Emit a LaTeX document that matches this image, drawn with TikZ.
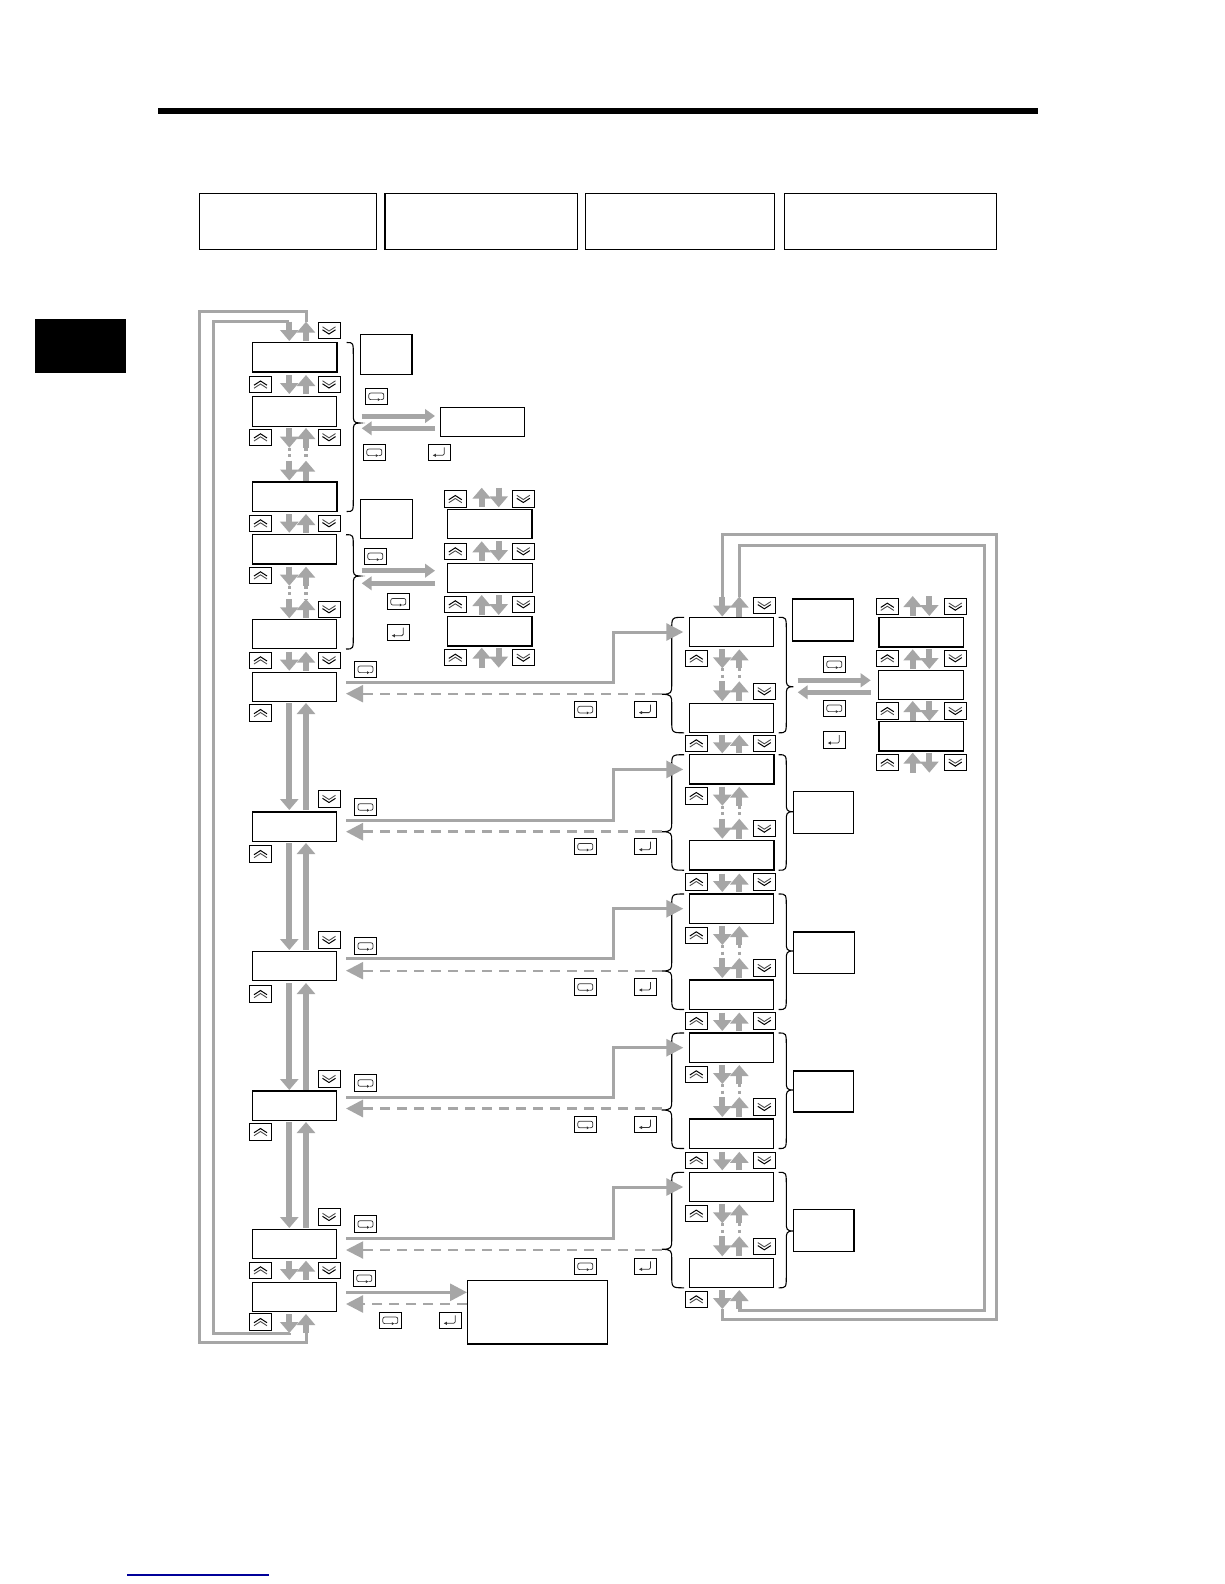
\documentclass[tikz,border=0pt]{standalone}
\usetikzlibrary{arrows.meta}
\definecolor{gr}{HTML}{A6A6A6}
\tikzset{
  x=1pt,y=-1pt,
  box/.style={draw=black,line width=1.1pt,inner sep=0pt,outer sep=0pt,anchor=north west,rectangle},
  lcd/.style={box,minimum width=84.6pt,minimum height=29.4pt},
  lcdb/.style={lcd,line width=1.5pt},
  note/.style={box,minimum width=51.5pt,minimum height=40pt},
  noteb/.style={note,line width=1.5pt},
  keybase/.style={draw=black,line width=1pt,rectangle,inner sep=0pt,outer sep=0pt,minimum width=22pt,minimum height=16.5pt},
  keyup/.style={keybase,path picture={\begin{scope}[shift={(path picture bounding box.center)}]
     \draw[black,line width=1pt,line join=miter] (-6.5,0.7)--(0,-3.5)--(6.5,0.7);
     \draw[black!70,line width=.9pt] (-6.5,3.7)--(0,-0.5)--(6.5,3.7);\end{scope}}},
  keydn/.style={keybase,path picture={\begin{scope}[shift={(path picture bounding box.center)}]
     \draw[black!70,line width=.9pt] (-6.5,-3.7)--(0,0.5)--(6.5,-3.7);
     \draw[black,line width=1pt] (-6.5,-0.7)--(0,3.5)--(6.5,-0.7);\end{scope}}},
  keyesc/.style={keybase,path picture={\begin{scope}[shift={(path picture bounding box.center)}]
     \draw[black!80,line width=.7pt,rounded corners=2pt] (1.5,3.3)--(-7.5,3.3)--(-7.5,-3.3)--(7.5,-3.3)--(7.5,3.3)--(4,3.3);
     \fill[black!80] (3.8,3.3)--(1.5,1.8)--(1.5,4.8)--cycle;\end{scope}}},
  keyent/.style={keybase,path picture={\begin{scope}[shift={(path picture bounding box.center)}]
     \draw[black!80,line width=.8pt,rounded corners=1.5pt] (5,-5)--(5,3)--(-4,3);
     \fill[black!80] (-6.5,3)--(-3.5,1.4)--(-3.5,4.6)--cycle;\end{scope}}},
  blockar/.style={draw=gr,line width=6pt,-{Triangle[length=11pt,width=18pt]}},
  midar/.style={draw=gr,line width=5pt,-{Triangle[length=10pt,width=13.5pt]}},
  linkar/.style={draw=gr,line width=3pt,-{Triangle[length=17pt,width=17pt]},shorten >=6pt},
  dashar/.style={draw=gr,dash pattern=on 10pt off 7pt,-{Triangle[length=17pt,width=17pt]}},
  solidar/.style={draw=gr,line width=3pt,-{Triangle[length=17pt,width=17pt]}},
  dotln/.style={draw=gr,line width=3.2pt,dash pattern=on 3pt off 3.6pt},
  loopln/.style={draw=gr,line width=3pt,line join=miter},
  brc/.style={draw=black,line width=1.1pt},
}
\newcommand\prow[5]{%
  \coordinate (#1-d0) at (#2,#4);\coordinate (#1-d1) at (#2,#5);
  \coordinate (#1-u0) at (#3,#4);\coordinate (#1-u1) at (#3,#5);
  \draw[blockar] (#1-d0) -- (#1-d1);
  \draw[blockar] (#1-u1) -- (#1-u0);}
\newcommand\dotlink[2]{%
  \draw[dotln] (#1-d1) -- (#2-d0);
  \draw[dotln] (#1-u1) -- (#2-u0);}
\newcommand\gbrace[6]{% end x, spine x, tip x, y0, y1, ytip
  \draw[brc] (#1,#4) .. controls (#2,#4) and (#2,#4) .. (#2,#4+13) -- (#2,#6-9)
    .. controls (#2,#6-2) and (#2,#6) .. (#3,#6)
    .. controls (#2,#6) and (#2,#6+2) .. (#2,#6+9) -- (#2,#5-13)
    .. controls (#2,#5) and (#2,#5) .. (#1,#5);}
\newcommand\grp[5]{% id, ytop, ytip right brace, lcd style, key y
  \node[#4] (#1t) at (689.3,#2) {};
  \node[#4] (#1b) at (689.3,#2+86) {};
  \node[keyup] (#1ku) at (696.3,#2+41.3) {};
  \node[keydn] (#1kd) at (764.3,#2+74) {};
  \prow{#1ra}{722.3}{739.3}{#2+32}{#2+51}
  \prow{#1rb}{722.3}{739.3}{#2+64}{#2+84}
  \dotlink{#1ra}{#1rb}
  \gbrace{684}{671.7}{661.7}{#2}{#2+115.5}{#2+77}
  \gbrace{778.5}{786.3}{793.3}{#2}{#2+115.5}{#3}
  \node[keyesc] (#1ke) at (585.3,#5) {};
  \node[keyent] (#1kn) at (645.5,#5) {};}
\newcommand\band[2]{% id, y
  \node[keyup] (#1u) at (696.3,#2) {};
  \node[keydn] (#1n) at (764.3,#2) {};
  \prow{#1}{722.3}{739.3}{#2-8.5}{#2+10}}
\newcommand\lnk[6]{% id, y solid, y dash, target, dash width, key y
  \node[keyesc] (#1k) at (365.5,#6) {};
  \coordinate (#1s) at (346,#2);\coordinate (#1m) at (613,#2);
  \coordinate (#1e) at (661.7,#3);\coordinate (#1f) at (346,#3);
  \draw[linkar] (#1s) -- (#1m) |- (#4.west);
  \draw[dashar,line width=#5] (#1e) -- (#1f);}
\begin{document}
\begin{tikzpicture}
\useasboundingbox (0,0) rectangle (1224,1584);
\fill[white] (0,0) rectangle (1224,1584);
% page furniture
\node[fill=black,minimum width=880pt,minimum height=6pt,inner sep=0pt,anchor=north west] (rule) at (158,108) {};
\node[fill=black,minimum width=91pt,minimum height=53.6pt,inner sep=0pt,anchor=north west] (tab) at (35,319) {};
\coordinate (blA) at (127.3,1575);\coordinate (blB) at (268.7,1575);
\draw[blue!60!black,line width=1.1pt] (blA) -- (blB);
% header boxes
\node[box,minimum width=177pt,minimum height=56pt] (h1) at (199.3,193.3) {};
\node[box,minimum width=192.5pt,minimum height=56pt] (h2) at (385,193.3) {};
\node[box,minimum width=189pt,minimum height=56pt] (h3) at (585.6,193.3) {};
\node[box,minimum width=212pt,minimum height=56pt] (h4) at (784.5,193.3) {};
% left column
\node[lcdb] (L1) at (252.3,342.5) {};
\node[lcd] (L2) at (252.3,396.7) {};
\node[lcd,line width=1.3pt] (L3) at (252.3,481.9) {};
\node[lcd] (L4) at (252.3,534.6) {};
\node[lcd] (L5) at (252.3,619.3) {};
\node[lcd] (L6) at (252.3,672.3) {};
\node[lcd] (L7) at (252.3,812) {};
\node[lcd] (L8) at (252.3,951.5) {};
\node[lcd] (L9) at (252.3,1091) {};
\node[lcd] (L10) at (252.3,1229.3) {};
\node[lcd] (L11) at (252.3,1282.3) {};
% left arrows
\prow{t}{289.3}{306}{321.7}{341}
\prow{a}{289.3}{306}{375}{394}
\prow{b}{289.3}{306}{428}{447.7}
\prow{c}{289.3}{306}{460.7}{480.5}
\dotlink{b}{c}
\prow{d}{289.3}{306}{514}{532.7}
\prow{e}{289.3}{306}{566.7}{585.7}
\prow{f}{289.3}{306}{599}{618.3}
\dotlink{e}{f}
\prow{g}{289.3}{306}{651.7}{670.7}
\prow{h}{289.3}{306}{703}{810}
\prow{i}{289.3}{306}{843}{950}
\prow{j}{289.3}{306}{983}{1090}
\prow{k}{289.3}{306}{1122}{1228}
\prow{l}{289.3}{306}{1260.7}{1280}
\prow{m}{289.3}{306}{1314}{1333}
% left keys
\node[keydn] (kt) at (329,330.5) {};
\node[keyup] (k1u) at (260.5,384.5) {};\node[keydn] (k1d) at (329,384.5) {};
\node[keyup] (k2u) at (260.5,437.3) {};\node[keydn] (k2d) at (329,437.3) {};
\node[keyup] (k3u) at (260.5,523.3) {};\node[keydn] (k3d) at (329,523.3) {};
\node[keyup] (k4u) at (260.5,575.3) {};\node[keydn] (k4d) at (329,609.3) {};
\node[keyup] (k5u) at (260.5,660.3) {};\node[keydn] (k5d) at (329,660.3) {};
\node[keyup] (k6u) at (260.5,713) {};\node[keydn] (k6d) at (329,799) {};
\node[keyup] (k7u) at (260.5,854) {};\node[keydn] (k7d) at (329,940) {};
\node[keyup] (k8u) at (260.5,994) {};\node[keydn] (k8d) at (329,1079) {};
\node[keyup] (k9u) at (260.5,1132) {};\node[keydn] (k9d) at (329,1217) {};
\node[keyup] (k10u) at (260.5,1270.3) {};\node[keydn] (k10d) at (329,1270.3) {};
\node[keyup] (k11u) at (260.5,1322) {};
% left loops
\coordinate (oA) at (199.3,311.7);\coordinate (oB) at (199.3,1342.7);
\coordinate (iA) at (213.3,321.7);\coordinate (iB) at (213.3,1333.7);
\draw[loopln] (t-u0) |- (oA) -- (oB) -| (m-u1);
\draw[loopln] (t-d0) -- (iA) -- (iB) -| (m-d1);
% upper braces and their panels
\gbrace{346.7}{353.3}{360}{342.5}{511.5}{423}
\gbrace{346}{353.3}{360}{534.7}{649}{576}
\node[noteb,minimum height=39.6pt] (n1) at (360.3,334.7) {};
\node[note,minimum width=52pt,minimum height=39pt] (n2) at (360.3,499.3) {};
\node[keyesc] (e1) at (376.3,396.3) {};
\node[box,minimum width=84pt,minimum height=29pt] (B) at (440.3,407.3) {};
\coordinate (b1a) at (361.7,416);\coordinate (b1b) at (435,416);
\coordinate (b2a) at (435,428.3);\coordinate (b2b) at (361.7,428.3);
\draw[midar] (b1a) -- (b1b);\draw[midar] (b2a) -- (b2b);
\node[keyesc] (e2) at (374.3,452.3) {};\node[keyent] (e3) at (439.3,452.3) {};
\node[keyesc] (e4) at (375.3,556.3) {};
\coordinate (b3a) at (361.7,570.7);\coordinate (b3b) at (435,570.7);
\coordinate (b4a) at (435,583.3);\coordinate (b4b) at (361.7,583.3);
\draw[midar] (b3a) -- (b3b);\draw[midar] (b4a) -- (b4b);
\node[keyesc] (e5) at (398.3,601.7) {};\node[keyent] (e6) at (398.3,632.7) {};
% upper stack
\node[lcdb] (S1) at (447.6,509.3) {};
\node[lcd] (S2) at (447.6,563.3) {};
\node[lcdb] (S3) at (447.6,616.7) {};
\prow{sa}{498.7}{481.7}{487.7}{507.3}
\prow{sb}{498.7}{481.7}{541.3}{561}
\prow{sc}{498.7}{481.7}{595}{615}
\prow{sd}{498.7}{481.7}{647.7}{667.7}
\foreach \nn/\yy in {1/499,2/551.3,3/604.3,4/657.7}{
  \node[keyup] (su\nn) at (455.3,\yy) {};
  \node[keydn] (sd\nn) at (523.3,\yy) {};}
% right column groups
\grp{Ga}{617.3}{686.7}{lcd}{709.6}
\grp{Gb}{754.7}{811.7}{lcd,line width=1.3pt}{846.7}
\grp{Gc}{894}{951}{lcd}{987}
\grp{Gd}{1033}{1090}{lcd}{1124.5}
\grp{Ge}{1172.3}{1231}{lcd}{1266.3}
\prow{ta}{722.3}{739.3}{596.5}{616.5}
\node[keydn] (ta1) at (764.3,605.3) {};
\band{ba}{743.3}
\band{bb}{882}
\band{bc}{1021}
\band{bd}{1160.3}
\prow{be}{722.3}{739.3}{1290}{1309}
\node[keyup] (be1) at (696.3,1299.3) {};
% right loops
\coordinate (rA) at (722.3,534.7);\coordinate (rB) at (996.7,534.7);\coordinate (rC) at (996.7,1319.3);
\coordinate (qA) at (739.3,545);\coordinate (qB) at (984.3,545);\coordinate (qC) at (984.3,1310);
\draw[loopln] (ta-d0) -- (rA) -- (rB) -- (rC) -| (be-d1);
\draw[loopln] (ta-u0) -- (qA) -- (qB) -- (qC) -| (be-u1);
% links from the left column
\lnk{la}{682.3}{693.7}{Gat}{2pt}{669.3}
\lnk{lb}{820}{831.7}{Gbt}{3pt}{807}
\lnk{lc}{958.6}{970.7}{Gct}{2pt}{946}
\lnk{ld}{1097}{1108.5}{Gdt}{3pt}{1083}
\lnk{le}{1238.3}{1250}{Get}{2pt}{1224}
% last link
\node[box,line width=1.4pt,minimum width=140pt,minimum height=63.7pt] (big) at (467.3,1280.3) {};
\node[keyesc] (x1) at (364.3,1278.3) {};
\coordinate (xa) at (346,1292.3);\coordinate (xb) at (467,1292.3);
\coordinate (xc) at (467,1304);\coordinate (xd) at (346,1304);
\draw[solidar] (xa) -- (xb);
\draw[dashar,line width=2.5pt] (xc) -- (xd);
\node[keyesc] (x2) at (390.3,1320.3) {};\node[keyent] (x3) at (450.3,1320.3) {};
% group notes
\node[noteb,minimum width=61pt,minimum height=42pt] (Na) at (792.3,599) {};
\node[note,minimum width=60.3pt,minimum height=41.6pt] (Nb) at (793.3,791.7) {};
\node[note,minimum width=60.5pt,minimum height=41.6pt] (Nc) at (793.7,932) {};
\node[note,minimum width=60.3pt,minimum height=41pt] (Nd) at (793.3,1071) {};
\node[note,minimum width=60.7pt,minimum height=42pt] (Ne) at (793.3,1209.3) {};
% first group side panel
\coordinate (c1a) at (797.7,680.3);\coordinate (c1b) at (870.7,680.3);
\coordinate (c2a) at (870.7,692.3);\coordinate (c2b) at (797.7,692.3);
\draw[midar] (c1a) -- (c1b);\draw[midar] (c2a) -- (c2b);
\node[keyesc] (y1) at (834.3,664.3) {};
\node[keyesc] (y2) at (834.3,708.3) {};
\node[keyent] (y3) at (834.3,740) {};
\node[lcdb] (R1) at (878.9,617.7) {};
\node[lcd] (R2) at (878.9,670.3) {};
\node[lcdb] (R3) at (878.9,721.7) {};
\prow{ra}{929.3}{912.7}{596}{616}
\prow{rb}{929.3}{912.7}{649.3}{669}
\prow{rc}{929.3}{912.7}{701}{721}
\prow{rd}{929.3}{912.7}{752.7}{772.7}
\foreach \nn/\yy in {1/606.7,2/658.3,3/711,4/762.7}{
  \node[keyup] (ru\nn) at (887.3,\yy) {};
  \node[keydn] (rd\nn) at (955.3,\yy) {};}
\end{tikzpicture}
\end{document}
